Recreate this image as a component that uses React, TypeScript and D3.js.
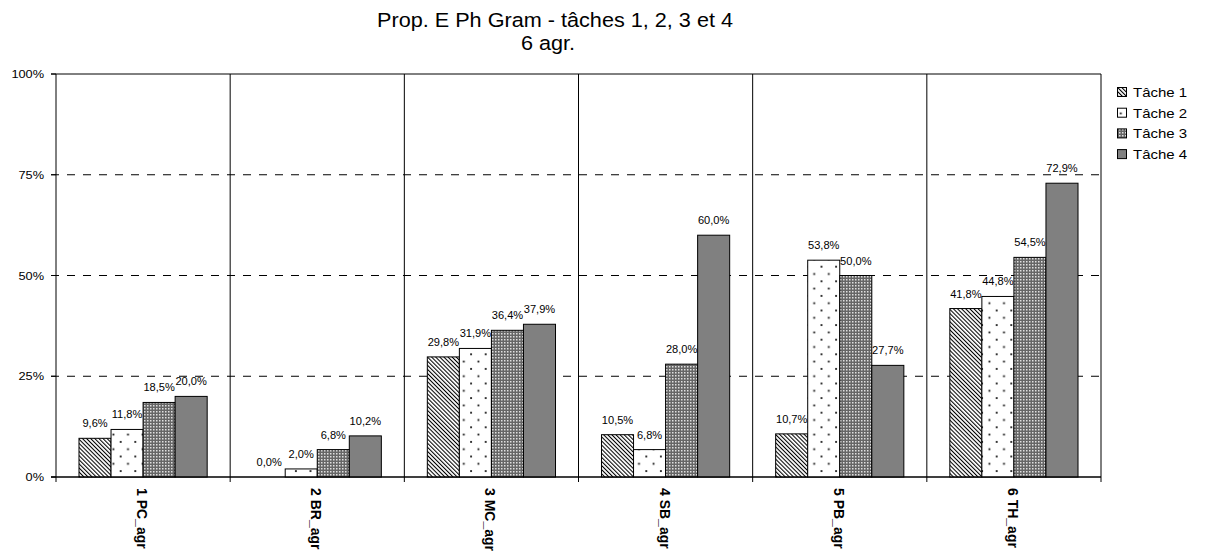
import React from "react";
import * as d3 from "d3";

const categories = ["1 PC_agr", "2 BR_agr", "3 MC_agr", "4 SB_agr", "5 PB_agr", "6 TH_agr"];
const seriesNames = ["Tâche 1", "Tâche 2", "Tâche 3", "Tâche 4"];
const tache1 = [9.6, 0.0, 29.8, 10.5, 10.7, 41.8];
const tache2 = [11.8, 2.0, 31.9, 6.8, 53.8, 44.8];
const tache3 = [18.5, 6.8, 36.4, 28.0, 50.0, 54.5];
const tache4 = [20.0, 10.2, 37.9, 60.0, 27.7, 72.9];
const yTicks = [0, 25, 50, 75, 100];
const titleLines = ["Prop. E Ph Gram - tâches 1, 2, 3 et 4", "6 agr."];

const W = 1205;
const H = 555;
const FONT = "'Liberation Sans', Arial, Helvetica, sans-serif";
const SX = 1.11;

export default function App() {
  const left = 56, right = 1101, top = 74, bottom = 477;
  const x = d3.scaleBand<string>().domain(categories).range([left, right]).padding(0);
  const bw = x.bandwidth();
  const xi = d3.scaleBand<string>().domain(seriesNames).range([bw * 0.132, bw * 0.868]).padding(0);
  const y = d3.scaleLinear().domain([0, 100]).range([bottom, top]);
  const series = [tache1, tache2, tache3, tache4];
  const fills = ["url(#pDiag)", "url(#pDots)", "url(#pCheck)", "#808080"];
  const fmt = (v: number) => v.toFixed(1).replace(".", ",") + "%";

  const stretched = (tx: number, ty: number, txt: string, size: number, anchor: string, extra: any = {}) => (
    <text
      transform={`translate(${tx},${ty}) scale(${SX},1)`}
      fontSize={size}
      textAnchor={anchor}
      fontFamily={FONT}
      fill="#000"
      {...extra}
    >
      {txt}
    </text>
  );

  return (
    <svg width={W} height={H} style={{ position: "absolute", left: 0, top: 0, background: "#fff" }}>
      <defs>
        <pattern id="pDiag" width={2.9} height={2.9} patternUnits="userSpaceOnUse" patternTransform="rotate(-45)">
          <rect width={2.9} height={2.9} fill="#fff" />
          <line x1={0.5} y1={0} x2={0.5} y2={2.9} stroke="#000" strokeWidth={1.1} />
        </pattern>
        <pattern id="pDots" width={14.6} height={14.6} patternUnits="userSpaceOnUse">
          <rect width={14.6} height={14.6} fill="#fff" />
          <rect x={3} y={3} width={1.8} height={1.8} fill="#111" />
          <rect x={10.3} y={10.3} width={1.8} height={1.8} fill="#111" />
        </pattern>
        <pattern id="pCheck" width={3} height={3} patternUnits="userSpaceOnUse">
          <rect width={3} height={3} fill="#666" />
          <rect x={0} y={0} width={1.5} height={1.5} fill="#e0e0e0" />
        </pattern>
      </defs>

      {/* title */}
      {stretched(555, 27, titleLines[0], 19.5, "middle")}
      {stretched(548, 50, titleLines[1], 19.5, "middle")}

      {/* horizontal grid */}
      {yTicks.map((t) => (
        <line
          key={"g" + t}
          x1={left - 5}
          x2={right}
          y1={y(t)}
          y2={y(t)}
          stroke="#000"
          strokeWidth={1}
          strokeDasharray={t === 0 || t === 100 ? undefined : "8,8"}
        />
      ))}
      {yTicks.map((t) => (
        <line key={"yt" + t} x1={left - 5} x2={left} y1={y(t)} y2={y(t)} stroke="#000" />
      ))}
      {yTicks.map((t) => (
        <g key={"yl" + t}>{stretched(left - 12, y(t) + 4, t + "%", 11.5, "end")}</g>
      ))}

      {/* vertical separators */}
      {categories.map((c) => (
        <line key={"v" + c} x1={x(c)!} x2={x(c)!} y1={top} y2={bottom + 5} stroke="#000" />
      ))}
      <line x1={right} x2={right} y1={top} y2={bottom + 5} stroke="#000" />

      {/* bars */}
      {series.map((vals, si) =>
        categories.map((c, ci) => {
          const bx = x(c)! + xi(seriesNames[si])!;
          const by = y(vals[ci]);
          return (
            <rect
              key={`b${si}-${ci}`}
              x={bx}
              y={by}
              width={xi.bandwidth()}
              height={bottom - by}
              fill={fills[si]}
              stroke="#000"
              strokeWidth={1}
            />
          );
        })
      )}

      {/* value labels */}
      {series.map((vals, si) =>
        categories.map((c, ci) => {
          const bx = x(c)! + xi(seriesNames[si])! + xi.bandwidth() / 2;
          return <g key={`l${si}-${ci}`}>{stretched(bx, y(vals[ci]) - 11, fmt(vals[ci]), 10, "middle")}</g>;
        })
      )}

      {/* x axis line */}
      <line x1={left - 5} x2={right} y1={bottom} y2={bottom} stroke="#000" />

      {/* category labels */}
      {categories.map((c) => (
        <text
          key={"xl" + c}
          transform={`translate(${x(c)! + bw / 2 - 6},${bottom + 11}) rotate(90) scale(1,${SX})`}
          fontSize={14}
          fontWeight="bold"
          fontFamily={FONT}
          fill="#000"
        >
          {c}
        </text>
      ))}

      {/* legend */}
      {seriesNames.map((s, i) => {
        const ly = 92 + i * 20.7;
        return (
          <g key={"lg" + s}>
            <rect x={1117.5} y={ly - 4.5} width={9} height={9} fill={fills[i]} stroke="#000" />
            {stretched(1133, ly + 5, s, 13.5, "start")}
          </g>
        );
      })}
    </svg>
  );
}
